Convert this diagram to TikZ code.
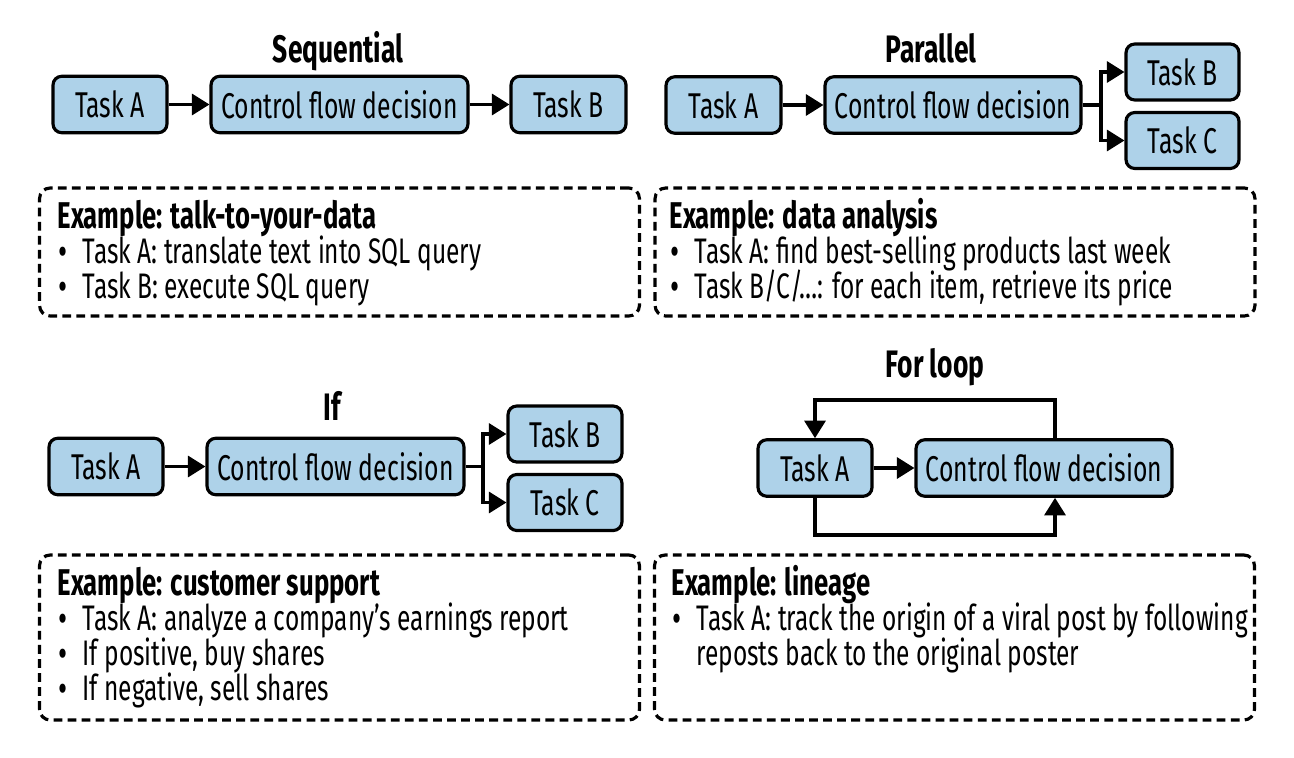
\documentclass[tikz,border=0pt]{standalone}
\usepackage{fontspec}
\setmainfont[FakeStretch=0.69]{Fira Sans}
\usepackage{tikz}
\usetikzlibrary{arrows.meta}
\definecolor{taskblue}{RGB}{174,210,233}
\newcommand{\bul}{\llap{\raisebox{-1.2pt}[0pt][0pt]{\fontsize{23}{23}\selectfont •}\hspace{8.5pt}}}

\begin{document}
\begin{tikzpicture}[x=0.02cm, y=-0.02cm, -{Triangle[length=10pt,width=12pt]}, line width=1.8pt]
		\tikzset{
		    task/.style= {rectangle, rounded corners=5pt, draw=black, fill=taskblue, minimum height=1.13cm, inner sep=0pt, font=\fontsize{20.4}{24}\selectfont},
		    ttl/.style= {anchor=base, font=\fontsize{21.8}{24}\selectfont\bfseries},
		    ebox/.style= {rectangle, rounded corners=6pt, draw=black, dash pattern=on 5pt off 3pt, minimum width=12cm, minimum height=2.56cm},
		    ehead/.style= {anchor=base west, inner sep=0pt, text height=13pt, text depth=4pt, font=\fontsize{21.2}{24}\selectfont\bfseries},
		    eline/.style= {anchor=base west, inner sep=0pt, text height=13pt, text depth=4pt, font=\fontsize{20.2}{24}\selectfont},
		}
		\useasboundingbox (0,0) rectangle (1294,757);
		
		% sequential
		\node[ttl] (t1) at (338,63) {Sequential};
		\node[task, minimum width=2.28cm] (a1) at (110,104.5) {Task A};
		\node[task, minimum width=5.14cm] (d1) at (339.5,104.5) {Control flow decision};
		\node[task, minimum width=2.3cm] (b1) at (568.5,104.5) {Task B};
		\node[ebox] (e1) at (339.5,252) {};
		\node[ehead] (h1) at (56,228) {Example: talk-to-your-data};
		\node[eline] (l1a) at (81,263) {\bul Task A: translate text into SQL query};
		\node[eline] (l1b) at (81,298) {\bul Task B: execute SQL query};
		
		% parallel
		\node[ttl] (t2) at (931,63) {Parallel};
		\node[task, minimum width=2.3cm] (a2) at (723.5,105) {Task A};
		\node[task, minimum width=5.12cm] (d2) at (953,105) {Control flow decision};
		\node[task, minimum width=2.26cm, minimum height=1.12cm] (b2) at (1182.5,72) {Task B};
		\node[task, minimum width=2.26cm, minimum height=1.12cm] (c2) at (1182.5,140.5) {Task C};
		\coordinate (s2) at (1101,105);
		\node[ebox] (e2) at (955,252) {};
		\node[ehead] (h2) at (668,228) {Example: data analysis};
		\node[eline] (l2a) at (693,263) {\bul Task A: find best-selling products last week};
		\node[eline] (l2b) at (693,298) {\bul Task B/C/…: for each item, retrieve its price};
		
		% if
		\node[ttl] (t3) at (332,420) {If};
		\node[task, minimum width=2.28cm] (a3) at (106,466.5) {Task A};
		\node[task, minimum width=5.14cm] (d3) at (335.5,466.5) {Control flow decision};
		\node[task, minimum width=2.28cm, minimum height=1.12cm] (b3) at (565,434) {Task B};
		\node[task, minimum width=2.28cm, minimum height=1.12cm] (c3) at (565,502.5) {Task C};
		\coordinate (s3) at (483,466.5);
		\node[ebox, minimum height=3.3cm] (e3) at (339.5,637.5) {};
		\node[ehead] (h3) at (56,595) {Example: customer support};
		\node[eline] (l3a) at (81,630) {\bul Task A: analyze a company’s earnings report};
		\node[eline] (l3b) at (81,665) {\bul If positive, buy shares};
		\node[eline] (l3c) at (81,700) {\bul If negative, sell shares};
		
		% for loop
		\node[ttl] (t4) at (935,377) {For loop};
		\node[task, minimum width=2.28cm] (a4) at (815,468) {Task A};
		\node[task, minimum width=5.12cm] (d4) at (1044,468) {Control flow decision};
		\coordinate (lt) at (1055,400);
		\coordinate (lb) at (1055,535);
		\node[ebox, minimum height=3.3cm] (e4) at (954.5,637.5) {};
		\node[ehead] (h4) at (670,595) {Example: lineage};
		\node[eline] (l4a) at (695,630) {\bul Task A: track the origin of a viral post by following};
		\node[eline] (l4b) at (695,665) {reposts back to the original poster};
		
		\draw
		(a1) edge (d1)
		(d1) edge (b1)
		(a2) edge (d2)
		(a3) edge (d3)
		(a4) edge (d4);
		\draw[-] (d2) -- (s2);
		\draw (s2) |- (b2);
		\draw (s2) |- (c2);
		\draw[-] (d3) -- (s3);
		\draw (s3) |- (b3);
		\draw (s3) |- (c3);
		\draw (d4.north -| lt) -- (lt) -| (a4.north);
		\draw (a4.south) |- (lb) -- (d4.south -| lb);
	\end{tikzpicture}
\end{document}
